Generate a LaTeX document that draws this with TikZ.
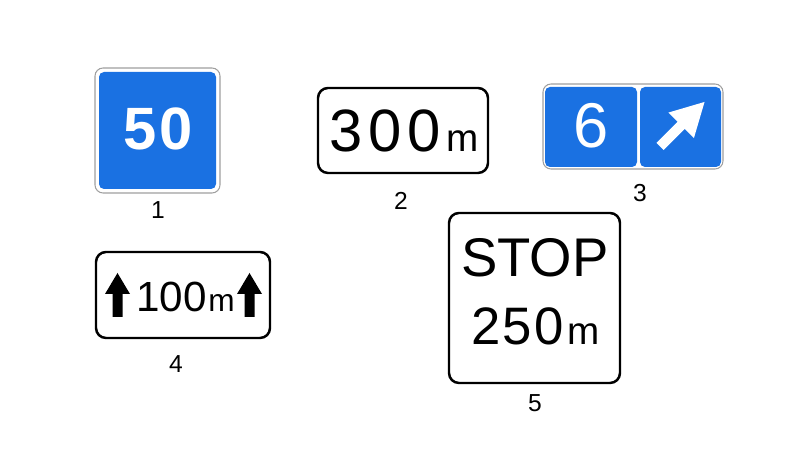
\documentclass[tikz,border=0pt]{standalone}
\usepackage{fontspec}
\setmainfont{Liberation Sans}
\usepackage{tikz}
\usetikzlibrary{positioning}
\usepackage{xcolor}
\definecolor{signblue}{RGB}{26,113,226}
\newcommand{\fs}[1]{\fontsize{#1}{#1}\selectfont}

\begin{document}
\begin{tikzpicture}[x=0.2mm,y=-0.2mm,
  plate/.style={fill=white,draw=gray!75,line width=0.6pt,rounded corners=1.6mm},
  bluepanel/.style={fill=signblue,rounded corners=1mm},
  frame/.style={fill=white,draw=black,line width=1.4pt,rounded corners=2mm},
  txt/.style={inner sep=0pt,anchor=base},
  num/.style={inner sep=0pt,anchor=base,font=\fs{14}}]
\useasboundingbox (0,0) rectangle (800,450);

% 1
\filldraw[plate] (95,68) rectangle (220,193);
\fill[bluepanel] (99,72) rectangle (216,189);
\node[txt,white,font=\bfseries\fs{34}\addfontfeature{LetterSpace=4}] (fifty) at (158,150) {50};
\node[num] (lab1) at (158,219) {1};

% 2
\filldraw[frame] (318,88) rectangle (488,173);
\node[txt,anchor=base west,font=\fs{34}\addfontfeature{LetterSpace=10}] (three) at (329,152) {300};
\node[txt,anchor=base west,font=\fs{22}] (mtwo) at (446,152) {m};
\node[num] (lab2) at (401,210) {2};

% 3
\filldraw[plate] (543,84) rectangle (723,169);
\fill[bluepanel] (545,87) rectangle (637,167);
\fill[bluepanel] (640,87) rectangle (721,167);
\node[txt,white,font=\fs{36}] (six) at (591,148) {6};
\fill[white,shift={(660,146.5)},rotate=45] (0,-5)--(30,-5)--(30,-18)--(63,0)--(30,18)--(30,5)--(0,5)--cycle;
\node[num] (lab3) at (640,202) {3};

% 4
\filldraw[frame] (96,252) rectangle (270,338);
\foreach \ax in {117.5,249.5}
  \fill[black,shift={(\ax,0)}] (-12.5,294)--(0,273)--(12.5,294)--(5,294)--(5,317)--(-5,317)--(-5,294)--cycle;
\node[txt,anchor=base west,font=\fs{24}] (hundred) at (136,312) {100};
\node[txt,anchor=base west,font=\fs{18}] (mfour) at (208,312) {m};
\node[num] (lab4) at (176,373) {4};

% 5
\filldraw[frame] (449,213) rectangle (620,383);
\node[txt,font=\fs{31}] (stop) at (535,277) {STOP};
\node[txt,anchor=base west,font=\fs{30}\addfontfeature{LetterSpace=4}] (twofifty) at (471,345) {250};
\node[txt,anchor=base west,font=\fs{22}] (mfive) at (567,345) {m};
\node[num] (lab5) at (535,412) {5};

\end{tikzpicture}
\end{document}
